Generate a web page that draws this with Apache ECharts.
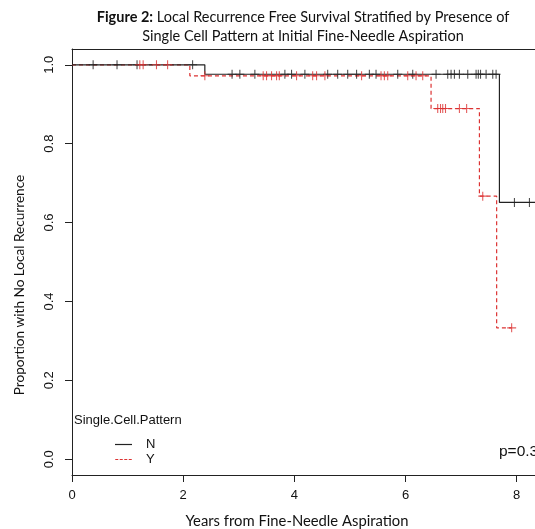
<!DOCTYPE html>
<html>
<head>
    <meta charset="utf-8">
    <title>Local Recurrence Free Survival</title>
    <script src="https://cdn.jsdelivr.net/npm/echarts@6/dist/echarts.min.js"></script>
    <style>
        html, body { margin: 0; padding: 0; background: #fff; }
        #main { width: 535px; height: 529px; }
    </style>
</head>
<body>
<div id="main"></div>
<script type="text/javascript">
    // Kaplan-Meier steps
    var timesN = [0, 2.39, 7.69, 8.4];
    var survN = [1, 0.976, 0.651, 0.651];
    var timesY = [0, 2.12, 6.46, 7.33, 7.64, 7.91];
    var survY = [1, 0.972, 0.889, 0.667, 0.333, 0.333];

    // censor marks (years)
    var censorN = [0.38, 0.81, 1.17, 2.17, 2.88, 3.02, 3.29, 3.83, 3.95, 4.19, 4.60, 4.78, 4.96,
        5.12, 5.35, 5.47, 5.86, 6.13, 6.55, 6.76, 6.82, 6.88, 6.97, 7.12, 7.27, 7.31, 7.35,
        7.45, 7.57, 7.63, 7.96, 8.23, 8.4];
    var censorY = [1.22, 1.28, 1.52, 1.72, 2.39, 3.44, 3.50, 3.59, 3.68, 3.73, 4.04, 4.33, 4.40,
        4.55, 5.21, 5.56, 5.62, 5.68, 6.04, 6.19, 6.31, 6.58, 6.63, 6.67, 6.72, 6.97, 7.10,
        7.39, 7.91];

    var xTicks = [0, 2, 4, 6, 8];
    var yTicks = [0, 0.2, 0.4, 0.6, 0.8, 1.0];

    var black = '#222222';
    var red = '#dc3232';
    var plusPath = 'path://M4.4,0H5.6V10H4.4Z M0,4.4H10V5.6H0Z';

    function stepAt(times, surv, t) {
        var s = surv[0];
        for (var i = 0; i < times.length; i++) {
            if (times[i] <= t) s = surv[i];
        }
        return s;
    }
    function pairs(times, surv) {
        return times.map(function (t, i) { return [t, surv[i]]; });
    }
    function marks(list, times, surv) {
        return list.map(function (t) { return [t, stepAt(times, surv, t)]; });
    }

    var myChart = echarts.init(document.getElementById('main'));
    var option = {
        animation: false,
        textStyle: { fontFamily: 'Liberation Sans' },
        title: {
            left: 298,
            top: 3,
            textAlign: 'center',
            text: '{b|Figure 2:}{n| Local Recurrence Free Survival Stratified by Presence of}\n{n|Single Cell Pattern at Initial Fine-Needle Aspiration}',
            textStyle: {
                fontWeight: 'normal',
                rich: {
                    b: { fontFamily: 'Lato', fontSize: 14.5, fontWeight: 'bold', color: '#111', lineHeight: 19 },
                    n: { fontFamily: 'Lato', fontSize: 14.5, fontWeight: 'normal', color: '#111', lineHeight: 19 }
                }
            }
        },
        grid: {
            left: 72,
            top: 49,
            right: 0,
            height: 426
        },
        xAxis: [
            {
                type: 'value',
                min: 0,
                max: 8.33,
                axisLine: { show: true, onZero: false, lineStyle: { color: black } },
                axisTick: { show: true, length: 7, customValues: xTicks, lineStyle: { color: black } },
                axisLabel: {
                    customValues: xTicks,
                    margin: 14,
                    fontSize: 13,
                    color: '#111',
                    formatter: function (v) { return String(v); }
                },
                splitLine: { show: false }
            },
            {
                // top edge of the box
                type: 'value',
                position: 'top',
                min: 0,
                max: 8.33,
                axisLine: { show: true, onZero: false, lineStyle: { color: black } },
                axisTick: { show: false },
                axisLabel: { show: false },
                splitLine: { show: false }
            }
        ],
        yAxis: {
            type: 'value',
            min: -0.04,
            max: 1.04,
            axisLine: { show: true, onZero: false, lineStyle: { color: black } },
            axisTick: { show: true, length: 7, customValues: yTicks, lineStyle: { color: black } },
            axisLabel: {
                customValues: yTicks,
                rotate: 90,
                margin: 16,
                fontSize: 13,
                color: '#111',
                formatter: function (v) { return v.toFixed(1); }
            },
            splitLine: { show: false }
        },
        legend: {
            data: [
                { name: 'N', icon: 'path://M0,0H17V1.2H0Z' },
                { name: 'Y', icon: 'path://M0,0H3V1.2H0Z M4.5,0H7.5V1.2H4.5Z M9,0H12V1.2H9Z M13.5,0H16.5V1.2H13.5Z' }
            ],
            orient: 'vertical',
            left: 110,
            top: 433,
            itemWidth: 17,
            itemHeight: 1.2,
            itemGap: 2,
            selectedMode: false,
            textStyle: { fontSize: 13, color: '#111', padding: [0, 0, 0, 9] }
        },
        graphic: [
            {
                type: 'text', left: 74, top: 414,
                style: { text: 'Single.Cell.Pattern', font: '13px "Liberation Sans"', fill: '#111' }
            },
            {
                type: 'text', x: 499, y: 452,
                style: { text: 'p=0.3', font: '15.5px "Liberation Sans"', fill: '#111', verticalAlign: 'middle' }
            },
            {
                type: 'text', x: 297, y: 521,
                style: { text: 'Years from Fine-Needle Aspiration', font: '14.8px Lato', fill: '#111', align: 'center', verticalAlign: 'middle' }
            },
            {
                type: 'text', x: 20, y: 285, rotation: Math.PI / 2,
                style: { text: 'Proportion with No Local Recurrence', font: '13.6px Lato', fill: '#111', align: 'center', verticalAlign: 'middle' }
            }
        ],
        series: [
            {
                name: 'N',
                type: 'line',
                step: 'end',
                showSymbol: false,
                color: black,
                lineStyle: { color: black, width: 1.2 },
                data: pairs(timesN, survN),
                z: 3
            },
            {
                name: 'Y',
                type: 'line',
                step: 'end',
                showSymbol: false,
                color: red,
                lineStyle: { color: red, width: 1.2, type: [4, 3] },
                data: pairs(timesY, survY),
                z: 2
            },
            {
                name: 'N censored',
                type: 'scatter',
                symbol: plusPath,
                symbolSize: 9,
                itemStyle: { color: black },
                data: marks(censorN, timesN, survN),
                z: 4
            },
            {
                name: 'Y censored',
                type: 'scatter',
                symbol: plusPath,
                symbolSize: 9,
                itemStyle: { color: red },
                data: marks(censorY, timesY, survY),
                z: 4
            }
        ]
    };
    myChart.setOption(option);
    window.onresize = myChart.resize;
</script>
</body>
</html>
